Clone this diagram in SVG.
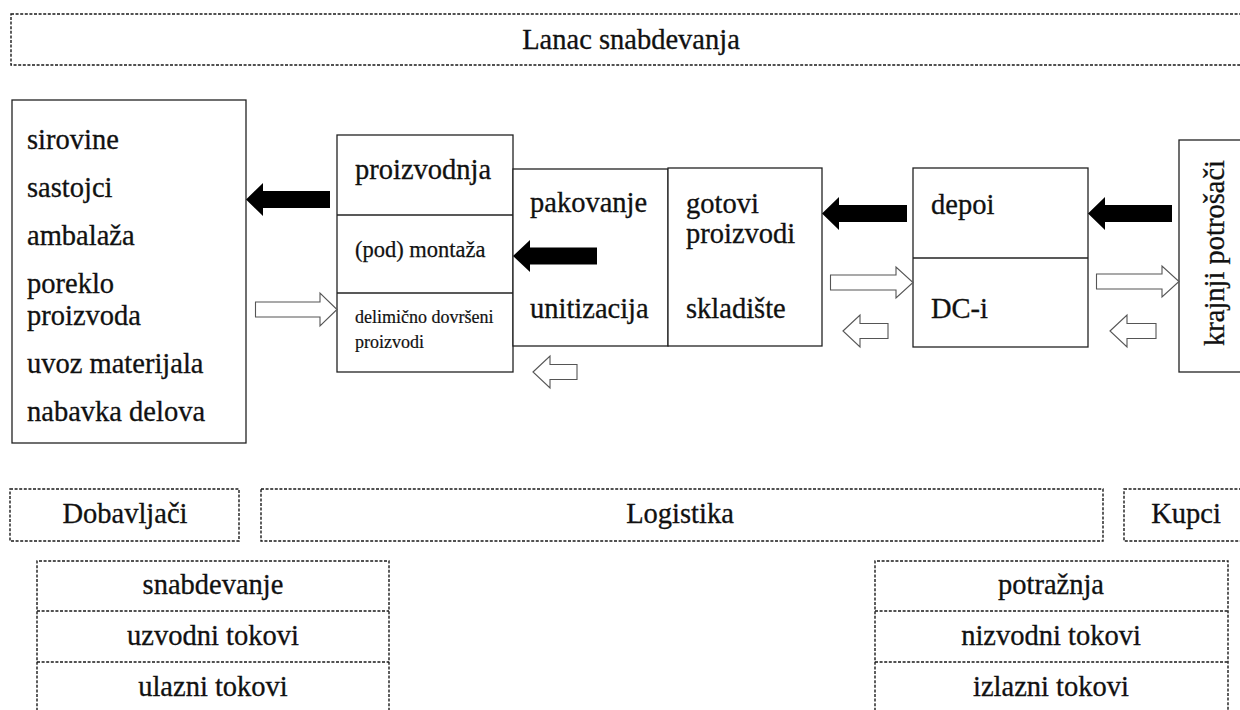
<svg xmlns="http://www.w3.org/2000/svg" width="1240" height="710" viewBox="0 0 1240 710">
  <style>
    text { font-family: 'Liberation Serif', 'Times New Roman', serif; font-size: 28.5px; fill: #111; stroke: #111; stroke-width: 0.3; }
    .mid { text-anchor: middle; }
    .sm { font-size: 22.5px; stroke-width: 0.25; }
    .xs { font-size: 18px; stroke-width: 0.2; }
    .dash { fill: none; stroke: #1a1a1a; stroke-width: 1.4; stroke-dasharray: 3 1.6; }
    .box { fill: #fff; stroke: #222; stroke-width: 1.3; }
    .line { stroke: #222; stroke-width: 1.3; }
    .solid { fill: #000; stroke: none; }
    .hollow { fill: #fff; stroke: #555; stroke-width: 1.1; }
  </style>

  <!-- header band -->
  <g id="lanac">
    <rect class="dash" x="11" y="14" width="1240" height="51"/>
    <text class="mid" x="631" y="49">Lanac snabdevanja</text>
  </g>

  <!-- suppliers' inputs -->
  <g id="ulazi">
    <rect class="box" x="12" y="100" width="234" height="343"/>
    <text x="27" y="149">sirovine</text>
    <text x="27" y="197">sastojci</text>
    <text x="27" y="245">ambalaža</text>
    <text x="27" y="293">poreklo</text>
    <text x="27" y="325">proizvoda</text>
    <text x="27" y="373">uvoz materijala</text>
    <text x="27" y="421">nabavka delova</text>
  </g>

  <!-- production block -->
  <g id="proizvodnja">
    <rect class="box" x="337" y="135" width="176" height="237"/>
    <line class="line" x1="337" y1="215" x2="513" y2="215"/>
    <line class="line" x1="337" y1="293" x2="513" y2="293"/>
    <text x="355" y="179">proizvodnja</text>
    <text class="sm" x="355" y="257">(pod) montaža</text>
    <text class="xs" x="355" y="323">delimično dovršeni</text>
    <text class="xs" x="355" y="348">proizvodi</text>
  </g>

  <!-- packaging block -->
  <g id="pakovanje">
    <rect class="box" x="513" y="169" width="155" height="177"/>
    <text x="530" y="212">pakovanje</text>
    <text x="530" y="318">unitizacija</text>
  </g>

  <!-- finished goods / warehouse -->
  <g id="skladiste">
    <rect class="box" x="668" y="168" width="154" height="178"/>
    <text x="686" y="213">gotovi</text>
    <text x="686" y="243">proizvodi</text>
    <text x="686" y="318">skladište</text>
  </g>

  <!-- depots and distribution centres -->
  <g id="depoi">
    <rect class="box" x="913" y="168" width="175" height="179"/>
    <line class="line" x1="913" y1="258" x2="1088" y2="258"/>
    <text x="931" y="214">depoi</text>
    <text x="931" y="318">DC-i</text>
  </g>

  <!-- end consumers -->
  <g id="potrosaci">
    <rect class="box" x="1179" y="140" width="80" height="232"/>
    <text class="mid" transform="translate(1224 253) rotate(-90)">krajnji potrošači</text>
  </g>

  <!-- flow arrows: solid = information upstream, hollow = material -->
  <g id="tokovi">
    <polygon class="solid" points="246,199.5 263,183 263,191 330,191 330,208 263,208 263,216"/>
    <polygon class="solid" points="513,256 530,240 530,247.5 597,247.5 597,264.5 530,264.5 530,272"/>
    <polygon class="solid" points="822,213.5 839,197 839,205 907,205 907,222 839,222 839,230"/>
    <polygon class="solid" points="1088,213.5 1105,197 1105,205 1172,205 1172,222 1105,222 1105,230"/>

    <polygon class="hollow" points="255.5,302 320,302 320,293 337,309.5 320,326 320,317 255.5,317"/>
    <polygon class="hollow" points="830.5,275 896,275 896,267 913,282.5 896,298 896,290 830.5,290"/>
    <polygon class="hollow" points="1096.5,274 1162,274 1162,266 1179,281.5 1162,297 1162,289 1096.5,289"/>

    <polygon class="hollow" points="533,372 550,356 550,364.5 577,364.5 577,379.5 550,379.5 550,388"/>
    <polygon class="hollow" points="843,331 860,315 860,323.5 888,323.5 888,338.5 860,338.5 860,347"/>
    <polygon class="hollow" points="1110,331 1127,315 1127,323.5 1156,323.5 1156,338.5 1127,338.5 1127,347"/>
  </g>

  <!-- bottom category labels -->
  <g id="dobavljaci">
    <rect class="dash" x="10" y="489" width="229" height="52"/>
    <text class="mid" x="125" y="523">Dobavljači</text>
  </g>
  <g id="logistika">
    <rect class="dash" x="261" y="489" width="842" height="52"/>
    <text class="mid" x="680" y="523">Logistika</text>
  </g>
  <g id="kupci">
    <rect class="dash" x="1124" y="489" width="130" height="52"/>
    <text class="mid" x="1186" y="523">Kupci</text>
  </g>

  <!-- supply side flows -->
  <g id="snabdevanje">
    <path class="dash" d="M37,720 V561 H389 V720"/>
    <line class="dash" x1="37" y1="611" x2="389" y2="611"/>
    <line class="dash" x1="37" y1="662" x2="389" y2="662"/>
    <text class="mid" x="213" y="594">snabdevanje</text>
    <text class="mid" x="213" y="645">uzvodni tokovi</text>
    <text class="mid" x="213" y="696">ulazni tokovi</text>
  </g>

  <!-- demand side flows -->
  <g id="potraznja">
    <path class="dash" d="M875,720 V561 H1228 V720"/>
    <line class="dash" x1="875" y1="611" x2="1228" y2="611"/>
    <line class="dash" x1="875" y1="662" x2="1228" y2="662"/>
    <text class="mid" x="1051" y="594">potražnja</text>
    <text class="mid" x="1051" y="645">nizvodni tokovi</text>
    <text class="mid" x="1051" y="696">izlazni tokovi</text>
  </g>
</svg>
